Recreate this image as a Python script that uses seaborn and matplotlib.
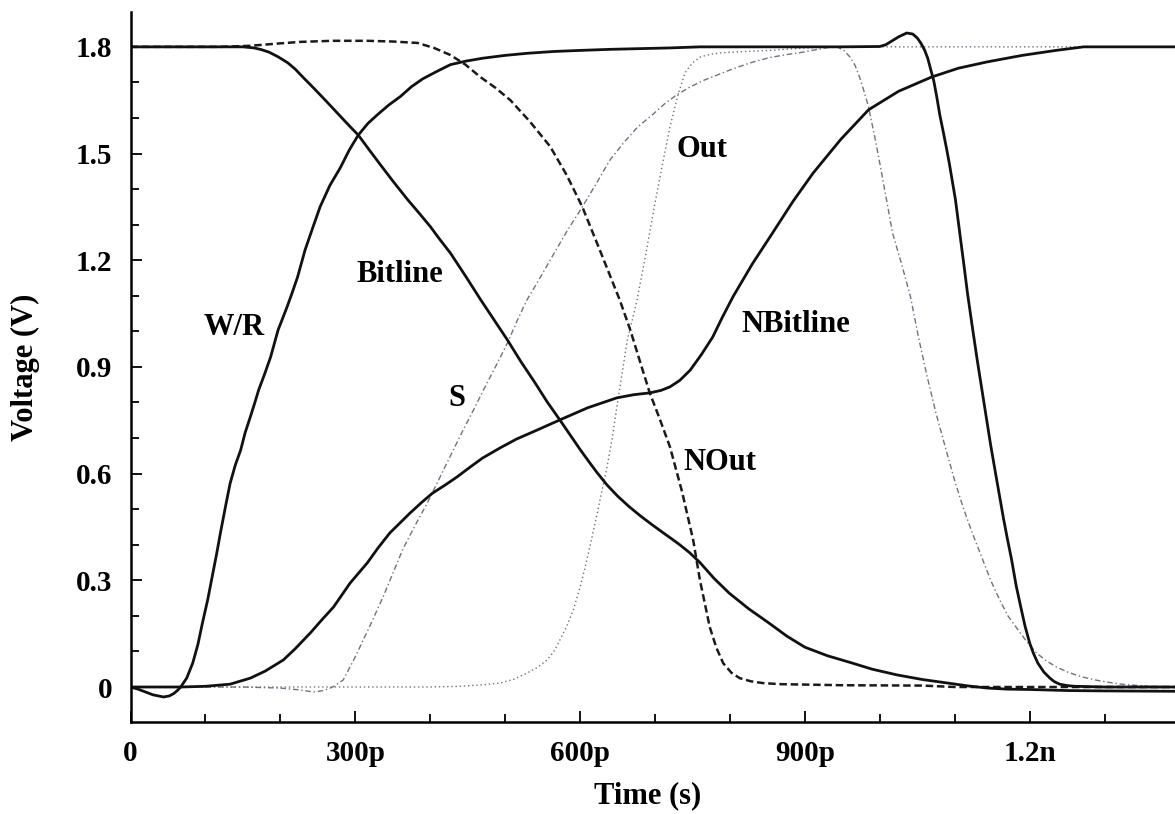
import numpy as np
import pandas as pd
import matplotlib
matplotlib.use("Agg")
import matplotlib.pyplot as plt
from matplotlib.ticker import MultipleLocator, FixedLocator, FixedFormatter
import seaborn as sns

# ---- transient waveforms (time in ps, voltage in V) ----
wr_t = [0, 10, 20, 30, 44, 52, 58, 63, 67, 75, 83, 90, 96, 103, 109, 115, 120, 127, 133,
        140, 147, 153, 160, 166, 171, 179, 187, 197, 209, 216, 223, 233, 243, 253, 266, 280,
        292, 304, 317, 330, 345, 360, 375, 390, 408, 427, 448, 470, 500, 530, 565, 600, 640,
        680, 720, 760, 850, 950, 1000, 1008, 1015, 1025, 1036, 1044, 1050, 1055, 1060, 1064,
        1067, 1072, 1076, 1080, 1085, 1089, 1093, 1097, 1101, 1105, 1109, 1113, 1117, 1123,
        1130, 1136, 1142, 1148, 1155, 1160, 1165, 1170, 1176, 1182, 1189, 1194, 1200, 1205,
        1211, 1219, 1227, 1233, 1240, 1250, 1260, 1300, 1394]
wr_v = [0.0, -0.006, -0.014, -0.022, -0.028, -0.025, -0.018, -0.009, 0.0, 0.025, 0.067,
        0.12, 0.18, 0.245, 0.31, 0.375, 0.433, 0.51, 0.573, 0.625, 0.666, 0.715, 0.76, 0.8,
        0.835, 0.88, 0.928, 1.004, 1.069, 1.11, 1.153, 1.229, 1.29, 1.35, 1.41, 1.46, 1.51,
        1.552, 1.585, 1.61, 1.637, 1.66, 1.688, 1.71, 1.73, 1.75, 1.76, 1.768, 1.776, 1.782,
        1.787, 1.79, 1.793, 1.795, 1.797, 1.8, 1.8, 1.8, 1.801, 1.806, 1.815, 1.828, 1.839,
        1.836, 1.825, 1.81, 1.79, 1.768, 1.744, 1.705, 1.66, 1.61, 1.558, 1.515, 1.47, 1.42,
        1.37, 1.305, 1.24, 1.175, 1.108, 1.02, 0.92, 0.84, 0.76, 0.68, 0.595, 0.535, 0.475,
        0.42, 0.357, 0.285, 0.217, 0.17, 0.124, 0.095, 0.067, 0.042, 0.025, 0.015, 0.008,
        0.004, 0.002, 0.0, 0.0]

bit_t = [0, 100, 150, 165, 175, 185, 197, 210, 220, 230, 245, 260, 280, 292, 304, 318, 333,
         350, 370, 385, 400, 413, 427, 447, 467, 485, 503, 521, 540, 556, 573, 587, 600, 612,
         623, 636, 650, 665, 680, 695, 710, 722, 733, 746, 760, 779, 799, 825, 852, 876, 900,
         930, 959, 990, 1023, 1057, 1091, 1118, 1144, 1170, 1200, 1251, 1300, 1394]
bit_v = [1.8, 1.8, 1.8, 1.797, 1.792, 1.785, 1.772, 1.755, 1.737, 1.715, 1.683, 1.65, 1.605,
         1.578, 1.552, 1.512, 1.47, 1.423, 1.37, 1.333, 1.295, 1.258, 1.22, 1.156, 1.09,
         1.033, 0.976, 0.915, 0.855, 0.802, 0.751, 0.708, 0.668, 0.633, 0.602, 0.568, 0.537,
         0.508, 0.482, 0.458, 0.435, 0.417, 0.40, 0.378, 0.35, 0.305, 0.264, 0.22, 0.18,
         0.143, 0.112, 0.088, 0.07, 0.05, 0.034, 0.021, 0.011, 0.003, -0.003, -0.006, -0.007,
         -0.01, -0.011, -0.012]

nbit_t = [0, 67, 100, 133, 160, 180, 204, 220, 240, 255, 271, 293, 316, 330, 346, 360, 373,
          388, 403, 420, 436, 453, 470, 493, 515, 540, 573, 610, 649, 672, 693, 708, 720, 733,
          747, 762, 777, 790, 804, 830, 857, 884, 911, 948, 985, 1025, 1069, 1105, 1144, 1190,
          1235, 1272, 1394]
nbit_v = [0.0, 0.0, 0.002, 0.008, 0.025, 0.045, 0.076, 0.108, 0.152, 0.188, 0.225, 0.292,
          0.349, 0.39, 0.433, 0.462, 0.489, 0.518, 0.545, 0.568, 0.591, 0.618, 0.644, 0.672,
          0.697, 0.72, 0.751, 0.785, 0.813, 0.822, 0.827, 0.834, 0.844, 0.862, 0.891, 0.935,
          0.984, 1.04, 1.097, 1.19, 1.277, 1.365, 1.445, 1.54, 1.623, 1.675, 1.715, 1.74,
          1.758, 1.776, 1.79, 1.8, 1.8]

nout_t = [0, 120, 160, 195, 227, 270, 316, 350, 383, 405, 427, 447, 467, 487, 507, 533, 560,
          582, 603, 628, 653, 667, 680, 693, 707, 720, 736, 751, 760, 767, 773, 782, 791, 802,
          813, 828, 844, 867, 950, 1057, 1100, 1394]
nout_v = [1.8, 1.8, 1.803, 1.809, 1.814, 1.817, 1.817, 1.815, 1.811, 1.797, 1.777, 1.75,
          1.715, 1.685, 1.65, 1.59, 1.52, 1.44, 1.35, 1.22, 1.088, 1.004, 0.915, 0.827, 0.75,
          0.675, 0.55, 0.413, 0.30, 0.23, 0.169, 0.11, 0.067, 0.04, 0.025, 0.016, 0.011,
          0.008, 0.005, 0.004, 0.0, 0.0]

out_t = [0, 400, 440, 467, 493, 512, 529, 543, 556, 565, 573, 582, 591, 600, 606, 613, 620,
         628, 636, 643, 649, 656, 663, 670, 676, 688, 699, 710, 720, 730, 740, 750, 761, 774,
         787, 820, 853, 880, 903, 929, 1394]
out_v = [0.0, 0.0, 0.002, 0.006, 0.011, 0.022, 0.039, 0.055, 0.076, 0.1, 0.132, 0.17, 0.217,
         0.281, 0.33, 0.394, 0.46, 0.54, 0.619, 0.7, 0.787, 0.88, 0.976, 1.035, 1.088, 1.22,
         1.35, 1.47, 1.575, 1.66, 1.727, 1.755, 1.772, 1.779, 1.783, 1.787, 1.79, 1.794,
         1.797, 1.8, 1.8]

s_t = [0, 150, 200, 225, 244, 258, 270, 284, 300, 318, 337, 364, 380, 396, 420, 444, 458,
       471, 487, 503, 516, 529, 545, 560, 582, 603, 620, 640, 658, 677, 697, 713, 729, 745,
       764, 782, 800, 827, 853, 875, 897, 920, 933, 943, 952, 960, 967, 973, 979, 985, 993,
       1001, 1009, 1017, 1029, 1041, 1052, 1063, 1075, 1088, 1100, 1112, 1124, 1137, 1148,
       1160, 1171, 1183, 1196, 1209, 1222, 1236, 1253, 1271, 1287, 1303, 1318, 1333, 1360,
       1394]
s_v = [0.0, 0.0, -0.003, -0.008, -0.014, -0.01, 0.0, 0.02, 0.085, 0.165, 0.253, 0.39, 0.455,
       0.517, 0.62, 0.723, 0.78, 0.835, 0.9, 0.967, 1.03, 1.088, 1.145, 1.2, 1.28, 1.35,
       1.41, 1.482, 1.53, 1.575, 1.61, 1.64, 1.665, 1.685, 1.705, 1.72, 1.735, 1.755, 1.77,
       1.778, 1.785, 1.794, 1.799, 1.8, 1.79, 1.772, 1.748, 1.715, 1.675, 1.631, 1.55, 1.462,
       1.37, 1.277, 1.19, 1.097, 0.98, 0.875, 0.77, 0.67, 0.58, 0.5, 0.43, 0.36, 0.3, 0.245,
       0.2, 0.165, 0.128, 0.096, 0.074, 0.056, 0.04, 0.028, 0.02, 0.014, 0.009, 0.006,
       0.002, 0.0]

# ---- signal labels: (text, time ps, voltage) ----
label_text = ["W/R", "Bitline", "S", "Out", "NBitline", "NOut"]
label_t = [138, 360, 435, 763, 888, 787]
label_v = [1.01, 1.159, 0.81, 1.51, 1.018, 0.63]

x_major = [0, 300, 600, 900, 1200]
x_labels = ["0", "300p", "600p", "900p", "1.2n"]
y_major = [0, 0.3, 0.6, 0.9, 1.2, 1.5, 1.8]
y_labels = ["0", "0.3", "0.6", "0.9", "1.2", "1.5", "1.8"]

sns.set_theme(style="ticks")
plt.rcParams["font.family"] = ["Liberation Serif", "DejaVu Serif"]
plt.rcParams["font.weight"] = "bold"

fig = plt.figure(figsize=(11.75, 8.14), dpi=100)
fig.patch.set_facecolor("white")
ax = fig.add_axes([130.5 / 1175, (814 - 722) / 814, (1175 - 130.5) / 1175, (722 - 12) / 814])
ax.set_facecolor("white")

gray = "#6f7280"
# thin gray traces first so the black ones sit on top
sns.lineplot(x=s_t, y=s_v, ax=ax, color=gray, linewidth=1.0, linestyle=(0, (4, 2, 1, 2)),
             estimator=None, sort=False)
sns.lineplot(x=out_t, y=out_v, ax=ax, color=gray, linewidth=1.0, linestyle=(0, (1, 2)),
             estimator=None, sort=False)
sns.lineplot(x=nout_t, y=nout_v, ax=ax, color="#1a1a1a", linewidth=1.8,
             linestyle=(0, (3, 1.5)), estimator=None, sort=False)
for tt, vv in [(wr_t, wr_v), (bit_t, bit_v), (nbit_t, nbit_v)]:
    sns.lineplot(x=tt, y=vv, ax=ax, color="#111111", linewidth=2.0, estimator=None,
                 sort=False, solid_joinstyle="round")

for txt, tt, vv in zip(label_text, label_t, label_v):
    ax.text(tt, vv, txt, ha="center", va="center", fontsize=22, fontweight="bold",
            color="black")

ax.set_xlim(0, 1394)
ax.set_ylim(-0.0984, 1.898)

ax.xaxis.set_major_locator(FixedLocator(x_major))
ax.xaxis.set_major_formatter(FixedFormatter(x_labels))
ax.xaxis.set_minor_locator(MultipleLocator(100))
ax.yaxis.set_major_locator(FixedLocator(y_major))
ax.yaxis.set_major_formatter(FixedFormatter(y_labels))
ax.yaxis.set_minor_locator(MultipleLocator(0.1))

ax.tick_params(axis="both", which="major", direction="in", length=8, width=1.3,
               labelsize=21, pad=13, colors="black")
ax.tick_params(axis="both", which="minor", direction="in", length=6, width=1.3,
               colors="black")

for side in ["top", "right"]:
    ax.spines[side].set_visible(False)
for side in ["left", "bottom"]:
    ax.spines[side].set_linewidth(1.8)
    ax.spines[side].set_color("black")

ax.set_xlabel("Time (s)", fontsize=22, fontweight="bold", color="black")
ax.set_ylabel("Voltage (V)", fontsize=22, fontweight="bold", color="black")
ax.xaxis.set_label_coords(0.495, -0.083)
ax.yaxis.set_label_coords(-0.087, 0.5)

fig.savefig("out.png", dpi=100, facecolor="white")
